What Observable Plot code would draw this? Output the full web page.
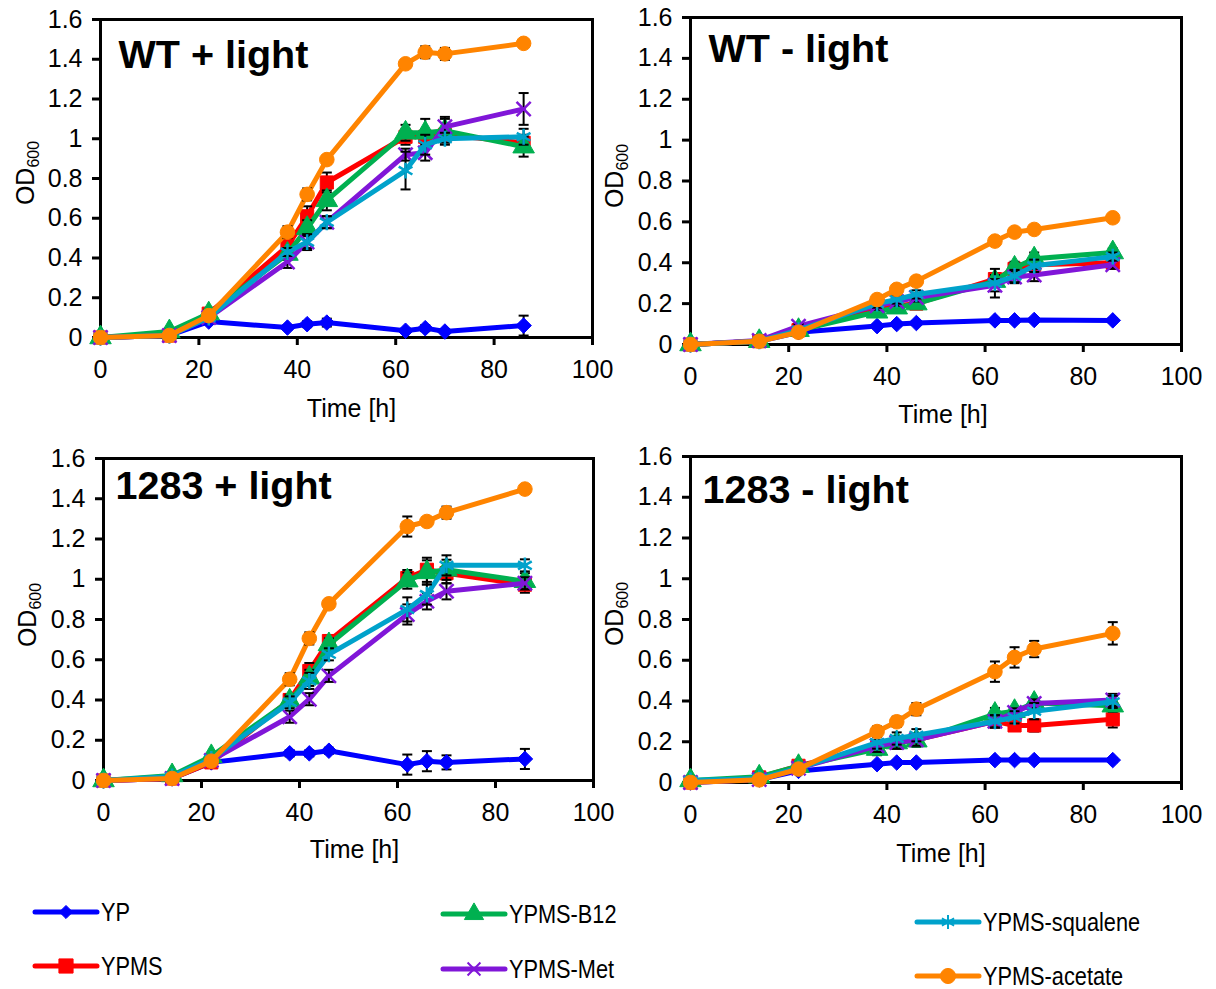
<!DOCTYPE html>
<html><head><meta charset="utf-8">
<script src="https://cdn.jsdelivr.net/npm/d3@7"></script>
<script src="https://cdn.jsdelivr.net/npm/@observablehq/plot@0.6"></script>
<style>
html,body{margin:0;padding:0;background:#fff;}
#chart{position:relative;width:1216px;height:989px;font-family:"Liberation Sans",Arial,sans-serif;}
#chart svg{position:absolute;overflow:visible;}
</style></head><body><div id="chart"></div>
<script>
// ---- data ----
const times = [0, 14, 22, 38, 42, 46, 62, 66, 70, 86];
const seriesNames = ["YP", "YPMS", "YPMS-B12", "YPMS-Met", "YPMS-squalene", "YPMS-acetate"];
const seriesColors = ["#0000FF", "#FF0000", "#00B050", "#8016D8", "#00A2CB", "#FF8400"];
const seriesSymbols = ["diamond2", "square", "triangle", "times", "asterisk", "circle"];
const xTicks = [0, 20, 40, 60, 80, 100];
const yTicks = [0, 0.2, 0.4, 0.6, 0.8, 1, 1.2, 1.4, 1.6];
const panelTitles = ["WT + light", "WT - light", "1283 + light", "1283 - light"];
const xLabel = "Time [h]";

const wtPlusValues = {
  "YP":            [0, 0.01, 0.08, 0.05, 0.067, 0.075, 0.034, 0.047, 0.03, 0.06],
  "YPMS":          [0, 0.01, 0.12, 0.46, 0.61, 0.78, 1.01, 1.01, 1.02, 0.98],
  "YPMS-B12":      [0, 0.03, 0.12, 0.42, 0.55, 0.69, 1.03, 1.03, 1.04, 0.96],
  "YPMS-Met":      [0, 0.01, 0.10, 0.38, 0.48, 0.58, 0.92, 0.93, 1.06, 1.15],
  "YPMS-squalene": [0, 0.01, 0.10, 0.43, 0.48, 0.58, 0.84, 0.97, 1.00, 1.01],
  "YPMS-acetate":  [0, 0.01, 0.11, 0.53, 0.72, 0.895, 1.377, 1.435, 1.427, 1.48]
};
const wtPlusErrors = {
  "YP":            [0, 0.005, 0.01, 0.01, 0.015, 0.02, 0.01, 0.015, 0.01, 0.05],
  "YPMS":          [0, 0.005, 0.02, 0.02, 0.05, 0.05, 0.04, 0.03, 0.03, 0.04],
  "YPMS-B12":      [0, 0.005, 0.02, 0.03, 0.04, 0.05, 0.04, 0.07, 0.06, 0.05],
  "YPMS-Met":      [0, 0.005, 0.01, 0.03, 0.03, 0.03, 0.03, 0.04, 0.05, 0.08],
  "YPMS-squalene": [0, 0.005, 0.01, 0.02, 0.04, 0.03, 0.095, 0.05, 0.03, 0.04],
  "YPMS-acetate":  [0, 0.005, 0.01, 0.03, 0.03, 0.02, 0.02, 0.03, 0.03, 0.01]
};

const wtMinusValues = {
  "YP":            [0, 0.016, 0.06, 0.09, 0.10, 0.105, 0.118, 0.118, 0.12, 0.118],
  "YPMS":          [0, 0.016, 0.07, 0.17, 0.19, 0.20, 0.32, 0.37, 0.39, 0.40],
  "YPMS-B12":      [0, 0.016, 0.07, 0.16, 0.18, 0.20, 0.31, 0.375, 0.42, 0.45],
  "YPMS-Met":      [0, 0.02, 0.09, 0.19, 0.21, 0.23, 0.29, 0.33, 0.34, 0.39],
  "YPMS-squalene": [0, 0.016, 0.07, 0.20, 0.22, 0.245, 0.30, 0.335, 0.385, 0.43],
  "YPMS-acetate":  [0, 0.016, 0.06, 0.22, 0.27, 0.31, 0.506, 0.55, 0.563, 0.62]
};
const wtMinusErrors = {
  "YP":            [0, 0.005, 0.01, 0.01, 0.01, 0.01, 0.01, 0.01, 0.01, 0.01],
  "YPMS":          [0, 0.005, 0.01, 0.02, 0.02, 0.02, 0.03, 0.02, 0.02, 0.02],
  "YPMS-B12":      [0, 0.005, 0.01, 0.02, 0.02, 0.02, 0.03, 0.03, 0.03, 0.02],
  "YPMS-Met":      [0, 0.005, 0.01, 0.02, 0.02, 0.02, 0.03, 0.03, 0.03, 0.02],
  "YPMS-squalene": [0, 0.005, 0.01, 0.02, 0.02, 0.02, 0.07, 0.03, 0.03, 0.02],
  "YPMS-acetate":  [0, 0.005, 0.01, 0.02, 0.02, 0.02, 0.02, 0.02, 0.01, 0.01]
};

const mutPlusValues = {
  "YP":            [0, 0.01, 0.09, 0.135, 0.135, 0.148, 0.079, 0.096, 0.09, 0.107],
  "YPMS":          [0, 0.01, 0.09, 0.40, 0.544, 0.693, 1.006, 1.047, 1.03, 0.973],
  "YPMS-B12":      [0, 0.025, 0.12, 0.396, 0.51, 0.676, 0.993, 1.034, 1.047, 0.99],
  "YPMS-Met":      [0, 0.01, 0.10, 0.317, 0.404, 0.52, 0.825, 0.89, 0.94, 0.98],
  "YPMS-squalene": [0, 0.02, 0.107, 0.388, 0.495, 0.627, 0.85, 0.924, 1.069, 1.069],
  "YPMS-acetate":  [0, 0.01, 0.096, 0.503, 0.706, 0.878, 1.262, 1.287, 1.331, 1.448]
};
const mutPlusErrors = {
  "YP":            [0, 0.005, 0.01, 0.015, 0.015, 0.015, 0.05, 0.05, 0.035, 0.05],
  "YPMS":          [0, 0.005, 0.01, 0.03, 0.04, 0.03, 0.04, 0.06, 0.05, 0.04],
  "YPMS-B12":      [0, 0.005, 0.01, 0.03, 0.04, 0.03, 0.04, 0.06, 0.05, 0.04],
  "YPMS-Met":      [0, 0.005, 0.01, 0.03, 0.03, 0.03, 0.05, 0.04, 0.04, 0.03],
  "YPMS-squalene": [0, 0.005, 0.01, 0.03, 0.04, 0.03, 0.06, 0.05, 0.05, 0.03],
  "YPMS-acetate":  [0, 0.005, 0.01, 0.03, 0.03, 0.02, 0.05, 0.02, 0.03, 0.02]
};

const mutMinusValues = {
  "YP":            [0, 0.015, 0.057, 0.09, 0.098, 0.098, 0.11, 0.11, 0.11, 0.11],
  "YPMS":          [0, 0.025, 0.082, 0.17, 0.196, 0.21, 0.30, 0.28, 0.28, 0.31],
  "YPMS-B12":      [0.01, 0.028, 0.08, 0.164, 0.196, 0.205, 0.336, 0.35, 0.39, 0.377],
  "YPMS-Met":      [0, 0.015, 0.07, 0.18, 0.196, 0.21, 0.30, 0.344, 0.388, 0.405],
  "YPMS-squalene": [0.01, 0.02, 0.07, 0.196, 0.216, 0.232, 0.30, 0.32, 0.35, 0.396],
  "YPMS-acetate":  [0, 0.013, 0.066, 0.25, 0.298, 0.36, 0.544, 0.614, 0.655, 0.732]
};
const mutMinusErrors = {
  "YP":            [0, 0.005, 0.01, 0.01, 0.01, 0.01, 0.01, 0.01, 0.01, 0.01],
  "YPMS":          [0, 0.005, 0.01, 0.03, 0.03, 0.02, 0.03, 0.02, 0.03, 0.04],
  "YPMS-B12":      [0, 0.005, 0.01, 0.03, 0.03, 0.03, 0.03, 0.02, 0.02, 0.03],
  "YPMS-Met":      [0, 0.005, 0.01, 0.03, 0.03, 0.03, 0.03, 0.02, 0.02, 0.03],
  "YPMS-squalene": [0, 0.005, 0.01, 0.03, 0.03, 0.03, 0.03, 0.03, 0.04, 0.03],
  "YPMS-acetate":  [0, 0.005, 0.01, 0.025, 0.025, 0.03, 0.05, 0.05, 0.04, 0.055]
};

// ---- layout ----
const panelValues = [wtPlusValues, wtMinusValues, mutPlusValues, mutMinusValues];
const panelErrors = [wtPlusErrors, wtMinusErrors, mutPlusErrors, mutMinusErrors];
const panelLayout = [
  {left: 0,   top: 0,   ml: 100, mr: 8,  mt: 19, mb: 103, tdx: 18, tdy: 20, odX: 25, odY: 173, xdx: 5, xdy: 62},
  {left: 600, top: 0,   ml: 90,  mr: 19, mt: 17, mb: 96,  tdx: 18, tdy: 16, odX: 14, odY: 176, xdx: 7, xdy: 61},
  {left: 0,   top: 440, ml: 103, mr: 7,  mt: 18, mb: 100, tdx: 12, tdy: 12, odX: 27, odY: 175, xdx: 6, xdy: 60},
  {left: 600, top: 440, ml: 90,  mr: 19, mt: 16, mb: 98,  tdx: 12, tdy: 18, odX: 14, odY: 174, xdx: 5, xdy: 62}
];
const markerR = {"diamond2": 7, "square": 7.4, "triangle": 8, "times": 6.5, "asterisk": 7.5, "circle": 7.3};
const strokeSymbols = new Set(["times", "asterisk"]);
const capSymbol = {draw(ctx, size) { const w = Math.sqrt(size / Math.PI); ctx.moveTo(-w, 0); ctx.lineTo(w, 0); }};

const chart = document.getElementById("chart");

panelTitles.forEach((title, p) => {
  const L = panelLayout[p];
  const marks = [
    Plot.axisX({ticks: xTicks, tickSize: 8, tickPadding: 15, strokeWidth: 3, fontSize: 25, label: null, tickFormat: d => String(d)}),
    Plot.axisY({ticks: yTicks, tickSize: 8, tickPadding: 10, strokeWidth: 3, fontSize: 25, label: null, tickFormat: d => String(d)}),
    Plot.frame({stroke: "black", strokeWidth: 3})
  ];
  seriesNames.forEach((name, s) => {
    const rows = times.map((t, i) => ({t, v: panelValues[p][name][i], e: panelErrors[p][name][i]}));
    const errRows = rows.filter(d => d.e > 0.006);
    const sym = seriesSymbols[s];
    const col = seriesColors[s];
    marks.push(
      Plot.line(rows, {x: "t", y: "v", stroke: col, strokeWidth: 5, strokeLinejoin: "round", strokeLinecap: "round"}),
      Plot.ruleX(errRows, {x: "t", y1: d => d.v - d.e, y2: d => d.v + d.e, stroke: "black", strokeWidth: 2}),
      Plot.dot(errRows, {x: "t", y: d => d.v + d.e, symbol: capSymbol, r: 5, fill: "none", stroke: "black", strokeWidth: 2}),
      Plot.dot(errRows, {x: "t", y: d => d.v - d.e, symbol: capSymbol, r: 5, fill: "none", stroke: "black", strokeWidth: 2}),
      Plot.dot(rows, {x: "t", y: "v", symbol: sym, r: markerR[sym],
        fill: strokeSymbols.has(sym) ? "none" : col, stroke: col, strokeWidth: strokeSymbols.has(sym) ? 2.5 : 1})
    );
  });
  marks.push(
    Plot.text([title], {text: d => d, frameAnchor: "top-left", textAnchor: "start", lineAnchor: "top",
      dx: L.tdx, dy: L.tdy, fontSize: 39.5, fontWeight: "bold", fill: "black"}),
    Plot.text([xLabel], {text: d => d, frameAnchor: "bottom", lineAnchor: "top",
      dx: L.xdx, dy: L.xdy, fontSize: 25, fill: "black"})
  );
  const svg = Plot.plot({
    width: 600, height: 440,
    marginLeft: L.ml, marginRight: L.mr, marginTop: L.mt, marginBottom: L.mb,
    x: {domain: [0, 100]},
    y: {domain: [0, 1.6]},
    style: {fontFamily: "'Liberation Sans', Arial, sans-serif", color: "black", background: "transparent", overflow: "visible"},
    marks
  });
  svg.style.left = L.left + "px";
  svg.style.top = L.top + "px";
  const od = d3.select(svg).append("text")
    .attr("transform", `translate(${L.odX},${L.odY}) rotate(-90)`)
    .attr("text-anchor", "middle").attr("y", 9)
    .attr("font-size", 25).attr("fill", "black")
    .attr("font-family", "'Liberation Sans', Arial, sans-serif");
  od.append("tspan").text("OD");
  od.append("tspan").attr("font-size", 16).attr("dy", 5).text("600");
  chart.appendChild(svg);
});

// ---- legend ----
const legendPos = [[35, 912], [35, 966], [443, 914], [443, 969], [917, 922], [917, 976]];
const legendSym = [d3.symbolDiamond2, d3.symbolSquare, d3.symbolTriangle, d3.symbolTimes, d3.symbolAsterisk, d3.symbolCircle];
const legendSize = [110, 200, 160, 110, 140, 180];
const lg = d3.select(chart).append("svg")
  .attr("width", 1216).attr("height", 109)
  .style("left", "0px").style("top", "880px");
seriesNames.forEach((name, s) => {
  const [x, y] = legendPos[s];
  const g = lg.append("g").attr("transform", `translate(${x},${y - 880})`);
  g.append("line").attr("x1", 0).attr("x2", 62).attr("y1", 0).attr("y2", 0)
    .attr("stroke", seriesColors[s]).attr("stroke-width", 5).attr("stroke-linecap", "round");
  const strokeOnly = s === 3 || s === 4;
  g.append("path").attr("transform", "translate(31,0)")
    .attr("d", d3.symbol(legendSym[s], legendSize[s])())
    .attr("fill", strokeOnly ? "none" : seriesColors[s])
    .attr("stroke", seriesColors[s]).attr("stroke-width", strokeOnly ? 2 : 1);
  g.append("text").attr("transform", "translate(66,0) scale(0.87,1)").attr("dy", "0.35em")
    .attr("font-family", "'Liberation Sans', Arial, sans-serif")
    .attr("font-size", 25).attr("fill", "black").text(name);
});
</script></body></html>
